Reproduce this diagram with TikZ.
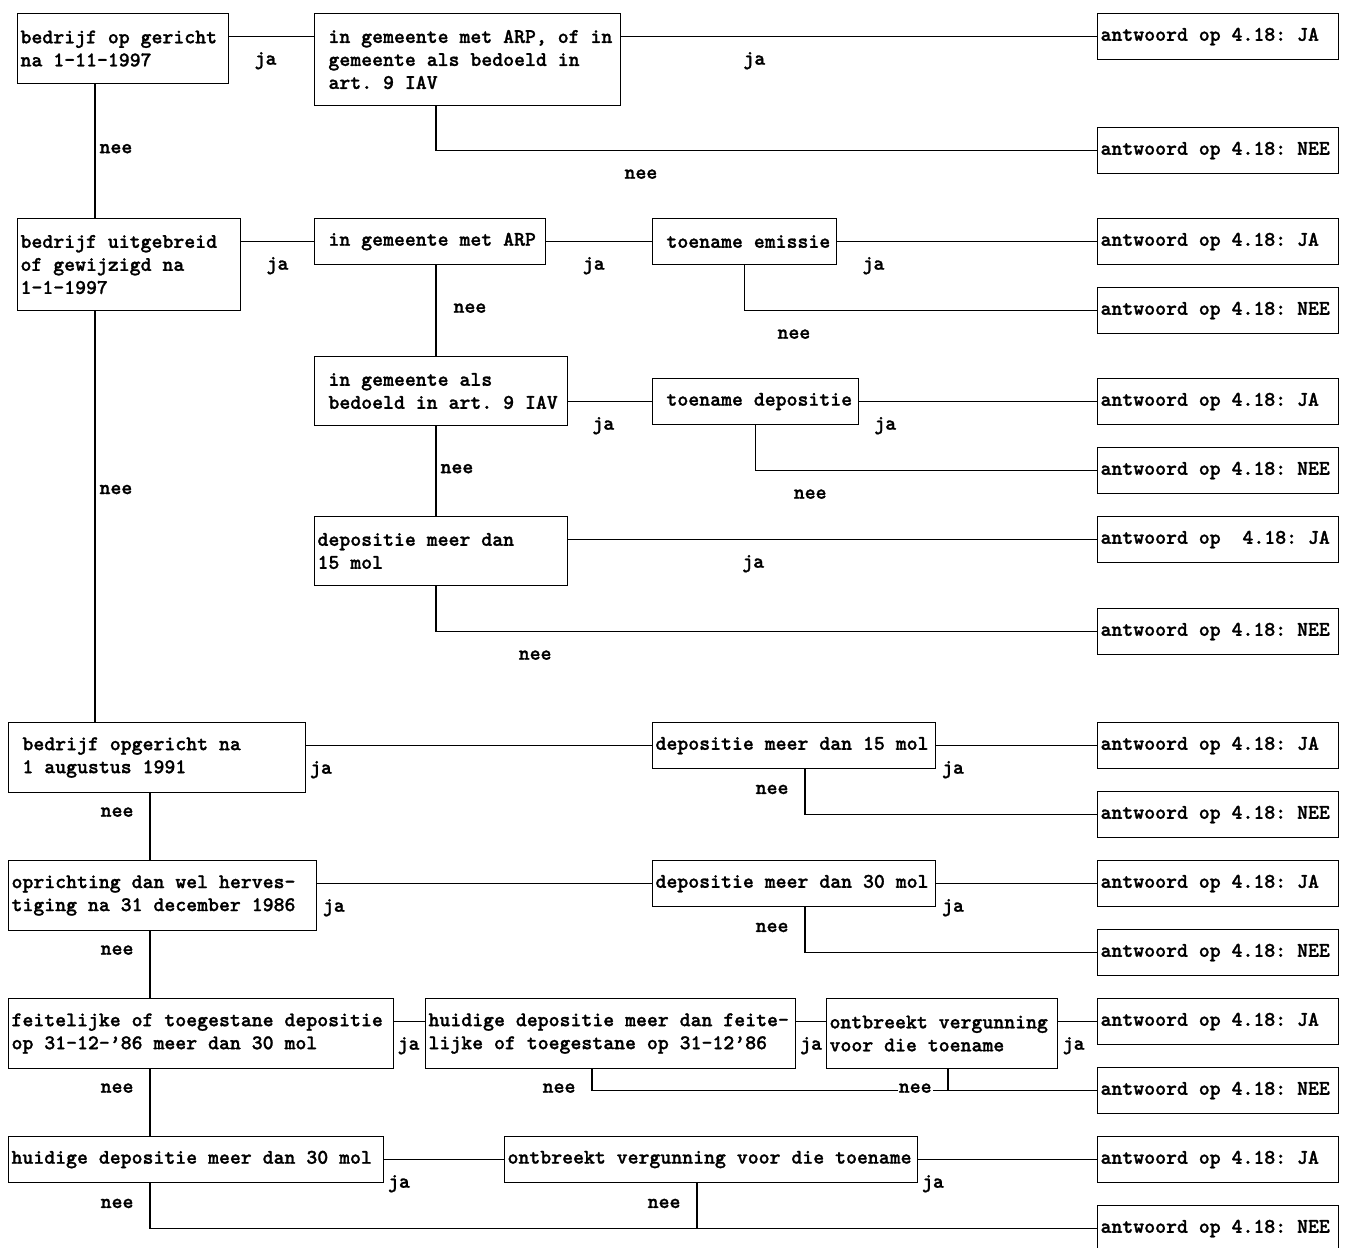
\documentclass[tikz,border=0pt]{standalone}
\usepackage{fontspec}
\newfontfamily\vakfont{lmmonolt10-bold.otf}[FakeBold=1.2]

\newcommand{\boxfont}{\vakfont\fontsize{20.8}{23}\selectfont\frenchspacing}
\newcommand{\inspr}{\hphantom{x}}

\tikzset{
  vak/.style={draw, line width=1.1pt, anchor=north west, inner xsep=3pt, inner ysep=0pt,
    align=left, font=\boxfont, execute at begin node={\spaceskip=.525em\relax\xspaceskip=\spaceskip}},
  antw/.style={vak, text width=235pt, minimum height=46pt},
  lijn/.style={draw, line width=1.1pt},
  onder/.style={font=\boxfont, inner sep=0pt, anchor=mid, yshift=-26pt},
  rechts/.style={font=\boxfont, inner sep=0pt, anchor=mid west, xshift=4pt},
  links/.style={font=\boxfont, inner sep=0pt, anchor=mid east, xshift=-16pt}
}

\begin{document}
\begin{tikzpicture}[x=1pt, y=-1pt]
  \useasboundingbox (0,0) rectangle (1348,1247);

  \coordinate (tA) at (95,0);
  \coordinate (tB) at (436,0);
  \coordinate (tC) at (150,0);
  \coordinate (tE) at (805,0);
  \coordinate (tF) at (592,0);
  \coordinate (tG) at (948,0);
  \coordinate (tH) at (697,0);

  \node[vak, text width=205pt, minimum height=70pt] (a1) at (17,13) {bedrijf op gericht\\na 1-11-1997};
  \node[vak, text width=300pt, minimum height=92pt] (b1) at (314,13) {\inspr in gemeente met ARP, of in\\\inspr gemeente als bedoeld in\\\inspr art. 9 IAV};
  \node[antw] (j1) at (1097,13) {antwoord op 4.18: JA};
  \node[antw] (n1) at (1097,127) {antwoord op 4.18: NEE};

  \node[vak, text width=217pt, minimum height=92pt] (a2) at (17,218) {bedrijf uitgebreid\\of gewijzigd na\\1-1-1997};
  \node[vak, text width=225pt, minimum height=46pt] (b2) at (314,218) {\inspr in gemeente met ARP};
  \node[vak, text width=178pt, minimum height=46pt] (c2) at (652,218) {\inspr toename emissie};
  \node[antw] (j2) at (1097,218) {antwoord op 4.18: JA};
  \node[antw] (n2) at (1097,287) {antwoord op 4.18: NEE};

  \node[vak, text width=247pt, minimum height=69pt] (b3) at (314,356) {\inspr in gemeente als\\\inspr bedoeld in art. 9 IAV};
  \node[vak, text width=200pt, minimum height=46pt] (c3) at (652,378) {\inspr toename depositie};
  \node[antw] (j3) at (1097,378) {antwoord op 4.18: JA};
  \node[antw] (n3) at (1097,447) {antwoord op 4.18: NEE};

  \node[vak, text width=247pt, minimum height=69pt] (b4) at (314,516) {depositie meer dan\\15 mol};
  \node[antw] (j4) at (1097,516) {antwoord op~~4.18: JA};
  \node[antw] (n4) at (1097,608) {antwoord op 4.18: NEE};

  \node[vak, text width=291pt, minimum height=70pt] (a5) at (8,722) {\inspr bedrijf opgericht na\\\inspr 1 augustus 1991};
  \node[vak, text width=277pt, minimum height=46pt] (c5) at (652,722) {depositie meer dan 15 mol};
  \node[antw] (j5) at (1097,722) {antwoord op 4.18: JA};
  \node[antw] (n5) at (1097,791) {antwoord op 4.18: NEE};

  \node[vak, text width=302pt, minimum height=70pt] (a6) at (8,860) {oprichting dan wel herves-\\tiging na 31 december 1986};
  \node[vak, text width=277pt, minimum height=46pt] (c6) at (652,860) {depositie meer dan 30 mol};
  \node[antw] (j6) at (1097,860) {antwoord op 4.18: JA};
  \node[antw] (n6) at (1097,929) {antwoord op 4.18: NEE};

  \node[vak, text width=379pt, minimum height=70pt] (a7) at (8,998) {feitelijke of toegestane depositie\\op 31-12-’86 meer dan 30 mol};
  \node[vak, text width=364pt, minimum height=70pt] (b7) at (425,998) {huidige depositie meer dan feite-\\lijke of toegestane op 31-12’86};
  \node[vak, text width=225pt, minimum height=70pt] (c7) at (826,998) {ontbreekt vergunning\\voor die toename};
  \node[antw] (j7) at (1097,998) {antwoord op 4.18: JA};
  \node[antw] (n7) at (1097,1067) {antwoord op 4.18: NEE};

  \node[vak, text width=369pt, minimum height=46pt] (a8) at (8,1136) {huidige depositie meer dan 30 mol};
  \node[vak, text width=407pt, minimum height=46pt] (c8) at (504,1136) {ontbreekt vergunning voor die toename};
  \node[antw] (j8) at (1097,1136) {antwoord op 4.18: JA};
  \node[antw] (n8) at (1097,1205) {antwoord op 4.18: NEE};

  \path[lijn]
    (a1.east |- j1.west) edge node[onder, pos=.43] {ja} (b1.west |- j1.west)
    (b1.east |- j1.west) edge node[onder, pos=.28] {ja} (j1.west)
    (a1.south -| tA) edge node[rechts, pos=.5] {nee} (a2.north -| tA);
  \draw[lijn] (b1.south -| tB) |- node[onder, pos=.655] {nee} (n1.west);

  \path[lijn]
    (a2.east |- b2.west) edge node[onder, pos=.5] {ja} (b2.west)
    (b2.east) edge node[onder, pos=.45] {ja} (c2.west)
    (c2.east) edge node[onder, pos=.14] {ja} (j2.west)
    (b2.south -| tB) edge node[rechts, pos=.5, xshift=13pt] {nee} (b3.north -| tB);
  \draw[lijn] (c2.south) |- node[onder, pos=.57] {nee} (n2.west);

  \path[lijn]
    (b3.east |- c3.west) edge node[onder, pos=.42] {ja} (c3.west)
    (c3.east) edge node[onder, pos=.11] {ja} (j3.west)
    (b3.south -| tB) edge node[rechts, pos=.5] {nee} (b4.north -| tB);
  \draw[lijn] (c3.south) |- node[onder, pos=.58] {nee} (n3.west);

  \path[lijn]
    (b4.east |- j4.west) edge node[onder, pos=.35] {ja} (j4.west)
    (a2.south -| tA) edge node[rechts, pos=.44] {nee} (a5.north -| tA);
  \draw[lijn] (b4.south -| tB) |- node[onder, pos=.575] {nee} (n4.west);

  \path[lijn]
    (a5.east |- c5.west) edge node[onder, pos=.043] {ja} (c5.west)
    (c5.east) edge node[onder, pos=.105] {ja} (j5.west)
    (a5.south -| tC) edge node[links, pos=.32] {nee} (a6.north -| tC);
  \draw[lijn] (c5.south -| tE) |- node[links, pos=.25] {nee} (n5.west);

  \path[lijn]
    (a6.east |- c6.west) edge node[onder, pos=.05] {ja} (c6.west)
    (c6.east) edge node[onder, pos=.105] {ja} (j6.west)
    (a6.south -| tC) edge node[links, pos=.32] {nee} (a7.north -| tC);
  \draw[lijn] (c6.south -| tE) |- node[links, pos=.25] {nee} (n6.west);

  \path[lijn]
    (a7.east |- j7.west) edge node[onder, pos=.47] {ja} (b7.west |- j7.west)
    (b7.east |- j7.west) edge node[onder, pos=.5] {ja} (c7.west |- j7.west)
    (c7.east |- j7.west) edge node[onder, pos=.4] {ja} (j7.west)
    (a7.south -| tC) edge node[links, pos=.32] {nee} (a8.north -| tC);
  \draw[lijn] (b7.south -| tF) |- node[links, pos=.5] {nee}
    node[font=\boxfont, fill=white, inner sep=1pt, anchor=mid, pos=.82] {nee} (n7.west);
  \draw[lijn] (c7.south -| tG) -- (n7.west -| tG);

  \path[lijn]
    (a8.east) edge node[onder, pos=.124] {ja} (c8.west)
    (c8.east) edge node[onder, pos=.083] {ja} (j8.west)
    (c8.south -| tH) edge node[links, pos=.5] {nee} (n8.west -| tH);
  \draw[lijn] (a8.south -| tC) |- node[links, pos=.25] {nee} (n8.west);
\end{tikzpicture}
\end{document}
